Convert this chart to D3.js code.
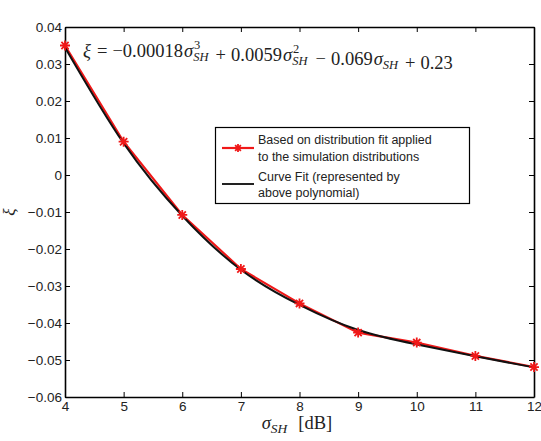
<!DOCTYPE html>
<html>
<head>
<meta charset="utf-8">
<script src="https://cdn.jsdelivr.net/npm/d3@7"></script>
<style>
  body { margin: 0; background: #fff; }
  svg text { font-family: "Liberation Sans", Arial, sans-serif; }
</style>
</head>
<body>
<svg id="chart" width="541" height="441"></svg>
<script>
// sigma_SH values (dB)
var sigma = [4, 5, 6, 7, 8, 9, 10, 11, 12];
// xi from the distribution fit (red, starred)
var xiFit = [0.0350, 0.0090, -0.0108, -0.0254, -0.0347, -0.0426, -0.0453, -0.0489, -0.0519];
// polynomial curve fit
var xiCurve = [0.0345, 0.0086, -0.0110, -0.0256, -0.0351, -0.0419, -0.0458, -0.0490, -0.0520];

var xTicks = [4, 5, 6, 7, 8, 9, 10, 11, 12];
var yTicks = [0.04, 0.03, 0.02, 0.01, 0, -0.01, -0.02, -0.03, -0.04, -0.05, -0.06];
var legendLabels = [
    ["Based on distribution fit applied", "to the simulation distributions"],
    ["Curve Fit (represented by", "above polynomial)"]
];

var pLeft = 65, pRight = 534, pTop = 27, pBottom = 397;
var svg = d3.select("#chart");

var x = d3.scaleLinear().domain([4, 12]).range([pLeft, pRight]);
var y = d3.scaleLinear().domain([-0.06, 0.04]).range([pBottom, pTop]);

function fmtY(d) {
    if (Math.abs(d) < 1e-9) return "0";
    return (d < 0 ? "\u22120" : "0") + d3.format(".2f")(Math.abs(d)).slice(1);
}

// axes, matlab style: ticks inside, on all four sides
var axB = svg.append("g").attr("transform", "translate(0," + pBottom + ")")
    .call(d3.axisBottom(x).tickValues(xTicks).tickSizeInner(-5).tickSizeOuter(0).tickPadding(4));
var axT = svg.append("g").attr("transform", "translate(0," + pTop + ")")
    .call(d3.axisTop(x).tickValues(xTicks).tickSizeInner(-5).tickSizeOuter(0).tickFormat(""));
var axL = svg.append("g").attr("transform", "translate(" + pLeft + ",0)")
    .call(d3.axisLeft(y).tickValues(yTicks).tickSizeInner(-5).tickSizeOuter(0).tickPadding(3).tickFormat(fmtY));
var axR = svg.append("g").attr("transform", "translate(" + pRight + ",0)")
    .call(d3.axisRight(y).tickValues(yTicks).tickSizeInner(-5).tickSizeOuter(0).tickFormat(""));

[axB, axT, axL, axR].forEach(function(ax) {
    ax.select(".domain").attr("stroke", "#000").attr("stroke-width", 1.6);
    ax.selectAll(".tick line").attr("stroke", "#000").attr("stroke-width", 1);
    ax.selectAll(".tick text").attr("fill", "#222").style("font-size", "13.5px")
        .style("font-family", "'Liberation Sans', Arial, sans-serif");
});

// red series
var redLine = d3.line().x(function(d, i) { return x(sigma[i]); }).y(function(d) { return y(d); });
svg.append("path").datum(xiFit)
    .attr("d", redLine)
    .attr("fill", "none").attr("stroke", "#f01818").attr("stroke-width", 2.2);

// black fitted curve
var blackLine = d3.line().curve(d3.curveNatural)
    .x(function(d, i) { return x(sigma[i]); }).y(function(d) { return y(d); });
svg.append("path").datum(xiCurve)
    .attr("d", blackLine)
    .attr("fill", "none").attr("stroke", "#111").attr("stroke-width", 2);

function star(g, cx, cy, r) {
    var k = r * 0.72;
    g.append("path")
        .attr("d", "M" + (cx - r) + "," + cy + "H" + (cx + r) +
            "M" + cx + "," + (cy - r) + "V" + (cy + r) +
            "M" + (cx - k) + "," + (cy - k) + "L" + (cx + k) + "," + (cy + k) +
            "M" + (cx - k) + "," + (cy + k) + "L" + (cx + k) + "," + (cy - k))
        .attr("stroke", "#f01818").attr("stroke-width", 1.8).attr("fill", "none");
}

var marks = svg.append("g");
xiFit.forEach(function(d, i) { star(marks, x(sigma[i]), y(d), 5); });

// equation, laid out piece by piece
var eq = svg.append("text").attr("x", 83).attr("y", 57)
    .style("font-family", "'Liberation Serif', 'Times New Roman', serif")
    .style("font-size", "18.5px").attr("fill", "#222");
function part(t, it, dx) {
    eq.append("tspan").text(t).attr("dx", dx || 0).style("font-style", it ? "italic" : "normal");
}
function sigmaTerm(power) {
    part("\u03c3", true, 1);
    if (power) {
        eq.append("tspan").text(power).attr("dx", 1).attr("dy", -8).style("font-size", "12.5px");
        eq.append("tspan").text("SH").attr("dx", -7).attr("dy", 12).style("font-size", "12.5px").style("font-style", "italic");
        eq.append("tspan").text("").attr("dy", -4);
    } else {
        eq.append("tspan").text("SH").attr("dy", 4).style("font-size", "12.5px").style("font-style", "italic");
        eq.append("tspan").text("").attr("dy", -4);
    }
}
part("\u03be", true);
part("=", false, 6);
part("\u22120.00018", false, 5);
sigmaTerm("3");
part("+", false, 7);
part("0.0059", false, 5);
sigmaTerm("2");
part("\u2212", false, 8);
part("0.069", false, 5);
sigmaTerm(null);
part("+", false, 7);
part("0.23", false, 5);

// legend
var lg = svg.append("g");
lg.append("rect").attr("x", 215.5).attr("y", 127.5).attr("width", 254).attr("height", 76)
    .attr("fill", "#fff").attr("stroke", "#000").attr("stroke-width", 1.2);
lg.append("line").attr("x1", 222).attr("x2", 254).attr("y1", 148).attr("y2", 148)
    .attr("stroke", "#f01818").attr("stroke-width", 2.2);
star(lg, 238, 148, 4);
lg.append("line").attr("x1", 222).attr("x2", 254).attr("y1", 184).attr("y2", 184)
    .attr("stroke", "#222").attr("stroke-width", 2);
var rowY = [[144, 161], [181, 197]];
legendLabels.forEach(function(lines, i) {
    lines.forEach(function(t, j) {
        lg.append("text").attr("x", 258).attr("y", rowY[i][j]).text(t)
            .style("font-size", "12.5px").attr("fill", "#222");
    });
});

// axis titles
var xt = svg.append("text").attr("x", 297).attr("y", 429).attr("text-anchor", "middle")
    .style("font-family", "'Liberation Serif', 'Times New Roman', serif")
    .style("font-size", "18.5px").attr("fill", "#222");
xt.append("tspan").text("\u03c3").style("font-style", "italic");
xt.append("tspan").text("SH").attr("dy", 4).style("font-size", "13.5px").style("font-style", "italic");
xt.append("tspan").text("[dB]").attr("dx", 11).attr("dy", -4);

svg.append("text").attr("transform", "translate(15,212) rotate(-90)")
    .attr("text-anchor", "middle")
    .style("font-family", "'Liberation Serif', 'Times New Roman', serif")
    .style("font-size", "17px").style("font-style", "italic").attr("fill", "#222")
    .text("\u03be");
</script>
</body>
</html>
